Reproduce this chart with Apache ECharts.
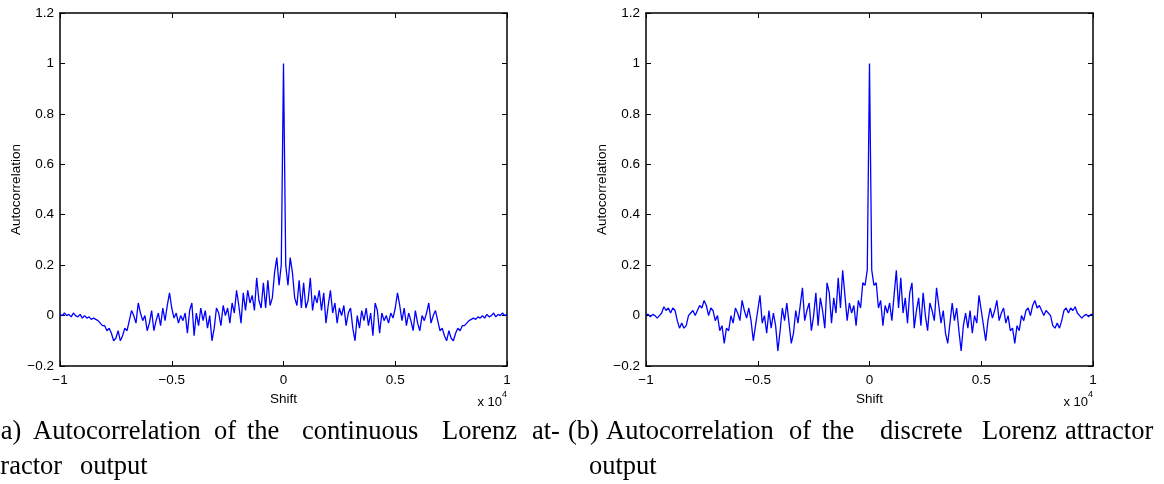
<!DOCTYPE html>
<html><head><meta charset="utf-8">
<style>html,body{margin:0;padding:0;background:#fff;}#c{width:1164px;height:484px;}</style>
<script src="https://cdn.jsdelivr.net/npm/echarts@6/dist/echarts.min.js"></script>
</head><body><div id="c"></div>
<script>
// ---------- data ----------
const shiftStart = -10000;   // first lag
const shiftStep = 100;       // lag spacing between samples
const xTickValues = [-10000, -5000, 0, 5000, 10000];
const yTickValues = [-0.2, 0, 0.2, 0.4, 0.6, 0.8, 1, 1.2];
const xLabel = 'Shift';
const yLabel = 'Autocorrelation';
const xExponent = ['x 10', '4'];

// (a) continuous Lorenz attractor output, lag -10000 .. 10000
const continuousAC = [
  0.005,
  0.00, 0.01, 0.00, 0.005, -0.005, 0.01, 0.00, -0.005, 0.005, -0.01,
  0.00, -0.01, -0.005, -0.015, -0.01, -0.015, -0.02, -0.03, -0.04, -0.04,
  -0.06, -0.05, -0.07, -0.10, -0.09, -0.06, -0.10, -0.08, -0.05, -0.06,
  -0.02, 0.02, 0.00, -0.03, 0.05, 0.01, -0.02, 0.00, -0.06, -0.03,
  0.02, -0.06, -0.02, 0.01, -0.04, 0.03, -0.02, 0.04, 0.09, 0.03,
  -0.01, 0.01, -0.03, 0.00, -0.02, 0.01, -0.07, 0.02, 0.05, -0.08,
  0.01, -0.04, 0.03, -0.02, 0.02, -0.05, 0.00, -0.10, -0.05, 0.03,
  0.01, -0.04, 0.04, 0.00, 0.03, -0.03, 0.05, 0.01, 0.10, 0.04,
  -0.03, 0.09, 0.02, 0.10, 0.05, 0.08, 0.02, 0.15, 0.06, 0.03,
  0.13, 0.03, 0.14, 0.04, 0.07, 0.17, 0.23, 0.12, 0.20,
  1.0,
  0.20, 0.12, 0.23, 0.17, 0.07, 0.04, 0.14, 0.03, 0.13,
  0.03, 0.06, 0.15, 0.02, 0.08, 0.05, 0.10, 0.02, 0.09, -0.03,
  0.04, 0.10, 0.01, 0.05, -0.03, 0.03, 0.00, 0.04, -0.04, 0.01,
  0.03, -0.05, -0.10, 0.00, -0.05, 0.02, -0.02, 0.03, -0.04, 0.01,
  -0.08, 0.05, 0.02, -0.07, 0.01, -0.02, 0.00, -0.03, 0.01, -0.01,
  0.03, 0.09, 0.04, -0.02, 0.03, -0.04, 0.01, -0.02, -0.06, 0.02,
  -0.03, -0.06, 0.00, -0.02, 0.01, 0.05, -0.03, 0.00, 0.02, -0.02,
  -0.06, -0.05, -0.08, -0.10, -0.06, -0.09, -0.10, -0.07, -0.05, -0.06,
  -0.04, -0.04, -0.03, -0.02, -0.015, -0.01, -0.015, -0.005, -0.01, 0.00,
  -0.01, 0.005, -0.005, 0.00, 0.01, -0.005, 0.005, 0.00, 0.01, 0.00,
  0.005
];

// (b) discrete Lorenz attractor output, lag -10000 .. 10000
const discreteAC = [
  0.005,
  0.005, -0.005, 0.005, 0.00, -0.01, 0.00, 0.01, 0.035, 0.02, 0.03,
  0.01, 0.03, 0.02, -0.02, -0.05, -0.03, -0.05, -0.04, 0.00, 0.01,
  0.02, 0.00, 0.02, 0.04, 0.03, 0.06, 0.04, 0.00, 0.03, 0.02,
  -0.02, 0.00, -0.06, -0.04, -0.11, -0.05, -0.06, 0.00, -0.03, 0.03,
  0.01, -0.02, 0.06, 0.02, -0.01, 0.03, -0.02, -0.10, -0.04, 0.02,
  0.08, -0.03, 0.00, -0.07, 0.02, -0.05, 0.01, -0.04, -0.14, -0.06,
  0.03, -0.02, 0.05, -0.03, -0.11, -0.07, 0.02, -0.03, 0.04, 0.11,
  -0.02, 0.02, 0.05, -0.06, 0.00, 0.09, -0.04, 0.07, 0.02, -0.05,
  0.13, 0.09, -0.03, 0.07, 0.01, 0.15, 0.03, 0.18, 0.08, -0.02,
  0.05, 0.01, 0.04, -0.04, 0.06, 0.03, 0.13, 0.12, 0.18,
  1.0,
  0.18, 0.12, 0.13, 0.03, 0.06, -0.04, 0.04, 0.01, 0.05,
  -0.02, 0.08, 0.18, 0.03, 0.15, 0.01, 0.07, -0.03, 0.09, 0.13,
  -0.05, 0.02, 0.07, -0.04, 0.09, 0.00, -0.06, 0.05, 0.02, -0.02,
  0.11, 0.04, -0.03, 0.02, -0.07, -0.11, -0.03, 0.05, -0.02, 0.03,
  -0.06, -0.14, -0.04, 0.01, -0.05, 0.02, -0.07, 0.00, -0.03, 0.08,
  0.02, -0.04, -0.10, -0.02, 0.03, -0.01, 0.02, 0.06, -0.02, 0.01,
  0.03, -0.03, 0.00, -0.06, -0.05, -0.11, -0.04, -0.06, 0.00, -0.02,
  0.02, 0.03, 0.00, 0.04, 0.06, 0.03, 0.04, 0.02, 0.00, 0.02,
  0.01, 0.00, -0.04, -0.05, -0.03, -0.05, -0.02, 0.02, 0.03, 0.01,
  0.03, 0.02, 0.035, 0.01, 0.00, -0.01, 0.00, 0.005, -0.005, 0.005,
  0.005
];

// captions (text only)
const captionA1 = ['(a)', 'Autocorrelation', 'of', 'the', 'continuous', 'Lorenz', 'at-'];
const captionA2 = ['tractor', 'output'];
const captionB1 = ['(b)', 'Autocorrelation', 'of', 'the', 'discrete', 'Lorenz', 'attractor'];
const captionB2 = ['output'];

// ---------- layout ----------
const grids = [
  {left: 60, top: 13, width: 447, height: 353},
  {left: 646, top: 13, width: 447, height: 353}
];
const capFont = '26.5px "Liberation Serif", "DejaVu Serif", serif';
const capLine1Y = 432, capLine2Y = 467;
const capA1X = [-8, 33, 214, 247, 302, 442, 532];
const capA2X = [-7, 80];
const capB1X = [568, 606, 789, 822, 880, 982, 1065];
const capB2X = [589];

const tickFont = '"Liberation Sans", Arial, Helvetica, sans-serif';
const fmtMinus = v => (v < 0 ? '\u2212' + String(Math.abs(v)) : String(v));

function xAxes(gi) {
  const base = {
    type: 'value', gridIndex: gi, min: xTickValues[0], max: xTickValues[xTickValues.length - 1],
    interval: xTickValues[1] - xTickValues[0],
    axisLine: {show: true, onZero: false, lineStyle: {color: '#000', width: 1.5}},
    axisTick: {show: true, inside: true, length: 5, lineStyle: {color: '#000', width: 1}},
    splitLine: {show: false}
  };
  return [
    Object.assign({}, base, {
      position: 'bottom',
      axisLabel: {show: true, margin: 7, color: '#000', fontSize: 13.5, fontFamily: tickFont,
        formatter: v => fmtMinus(Math.round(v / 10000 * 10) / 10)},
      name: xLabel, nameLocation: 'middle', nameGap: 17,
      nameTextStyle: {color: '#000', fontSize: 13.5, fontFamily: tickFont}
    }),
    Object.assign({}, base, {position: 'top', axisLabel: {show: false}})
  ];
}
function yAxes(gi) {
  const base = {
    type: 'value', gridIndex: gi, min: yTickValues[0], max: yTickValues[yTickValues.length - 1],
    interval: 0.2,
    axisLine: {show: true, onZero: false, lineStyle: {color: '#000', width: 1.5}},
    axisTick: {show: true, inside: true, length: 5, lineStyle: {color: '#000', width: 1}},
    splitLine: {show: false}
  };
  return [
    Object.assign({}, base, {
      position: 'left',
      axisLabel: {show: true, margin: 6, color: '#000', fontSize: 13.5, fontFamily: tickFont,
        formatter: v => fmtMinus(Math.round(v * 10) / 10)},
      name: yLabel, nameLocation: 'middle', nameGap: 36,
      nameTextStyle: {color: '#000', fontSize: 13.5, fontFamily: tickFont}
    }),
    Object.assign({}, base, {position: 'right', axisLabel: {show: false}})
  ];
}

function toPoints(values) {
  return values.map((v, i) => [shiftStart + i * shiftStep, v]);
}

function wordTexts(words, xs, y) {
  return words.map((w, i) => ({
    type: 'text', x: xs[i], y: y,
    style: {text: w, font: capFont, fill: '#000', textAlign: 'left', textVerticalAlign: 'middle'}
  }));
}
function exponentTexts(gi) {
  const right = grids[gi].left + grids[gi].width;
  return [
    {type: 'text', x: right - 5, y: 402, style: {text: xExponent[0], font: '13px ' + tickFont, fill: '#000', textAlign: 'right', textVerticalAlign: 'middle'}},
    {type: 'text', x: right - 5, y: 395, style: {text: xExponent[1], font: '9px ' + tickFont, fill: '#000', textAlign: 'left', textVerticalAlign: 'middle'}}
  ];
}

const chart = echarts.init(document.getElementById('c'), null, {renderer: 'canvas'});
chart.setOption({
  animation: false,
  backgroundColor: '#fff',
  grid: grids,
  xAxis: xAxes(0).concat(xAxes(1)),
  yAxis: yAxes(0).concat(yAxes(1)),
  series: [
    {type: 'line', xAxisIndex: 0, yAxisIndex: 0, data: toPoints(continuousAC), showSymbol: false,
      lineStyle: {color: '#0000ff', width: 1.3}, itemStyle: {color: '#0000ff'}},
    {type: 'line', xAxisIndex: 2, yAxisIndex: 2, data: toPoints(discreteAC), showSymbol: false,
      lineStyle: {color: '#0000ff', width: 1.3}, itemStyle: {color: '#0000ff'}}
  ],
  graphic: [].concat(
    exponentTexts(0), exponentTexts(1),
    wordTexts(captionA1, capA1X, capLine1Y), wordTexts(captionA2, capA2X, capLine2Y),
    wordTexts(captionB1, capB1X, capLine1Y), wordTexts(captionB2, capB2X, capLine2Y)
  )
});
</script></body></html>
